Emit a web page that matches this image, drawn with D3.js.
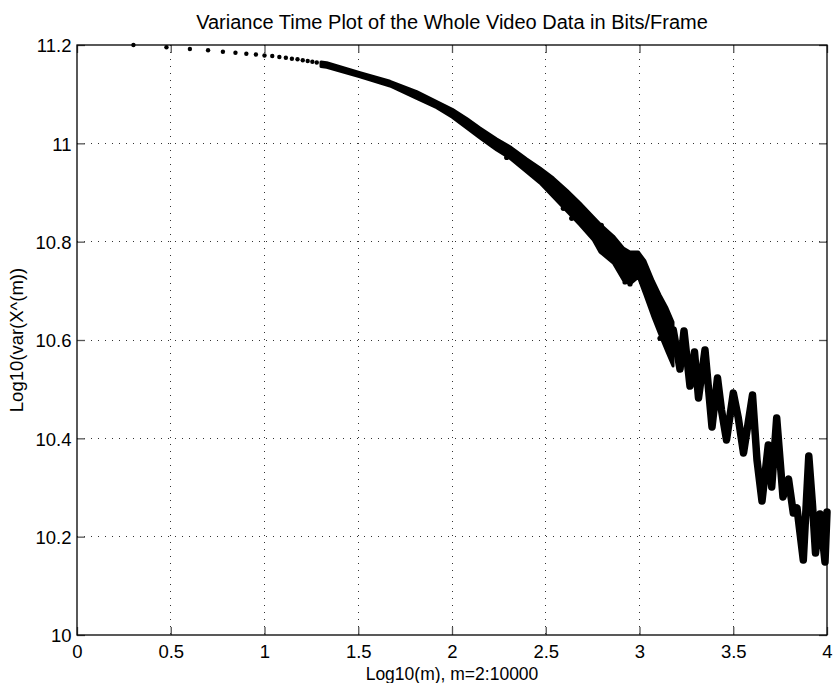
<!DOCTYPE html>
<html><head><meta charset="utf-8">
<script src="https://cdn.jsdelivr.net/npm/d3@7"></script>
<style>
body{margin:0;background:#fff}
svg{display:block}
text{font-family:"Liberation Sans",Arial,Helvetica,sans-serif;fill:#000}
</style>
</head><body>
<svg id="c" width="835" height="683"></svg>
<script>
// ---- data ----
const xTicks = [0, 0.5, 1, 1.5, 2, 2.5, 3, 3.5, 4];
const yTicks = [10, 10.2, 10.4, 10.6, 10.8, 11, 11.2];

// isolated points, m = 2..19 (x = log10(m))
const dotM = [2,3,4,5,6,7,8,9,10,11,12,13,14,15,16,17,18,19];
const dotY = [11.200,11.1953,11.1919,11.1892,11.1864,11.1843,11.1823,11.1807,11.1786,
              11.1776,11.1756,11.1742,11.1721,11.1709,11.1689,11.1675,11.1660,11.1644];

// dense band (upper / lower edge of the point cloud) for log10(m) 1.3 .. 3.18
const bandX  = [1.3013,1.3317,1.5093,1.6693,1.8117,1.9184,2.0016,2.0784,2.1493,2.2384,2.3093,2.3984,2.4693,
                2.5403,2.6117,2.6827,2.7536,2.7893,2.8603,2.9136,2.9493,2.9936,3.0293,3.0736,3.1093,3.1467,3.1787];
const bandHi = [11.1654,11.1640,11.1437,11.1262,11.1050,11.0847,11.0692,11.0505,11.0312,11.0088,10.9932,10.9681,10.9498,
                10.9295,10.9051,10.8786,10.8502,10.8359,10.8115,10.7871,10.7790,10.7790,10.7607,10.7200,10.6915,10.6651,10.6366];
const bandLo = [11.1563,11.1546,11.1355,11.1166,11.0916,11.0725,11.0529,11.0312,11.0109,10.9864,10.9696,10.9417,10.9193,
                10.8908,10.8624,10.8339,10.8034,10.7790,10.7566,10.7220,10.7139,10.7281,10.6915,10.6448,10.6102,10.5756,10.5471];

// oscillating tail (peaks and troughs) for log10(m) 3.18 .. 4
const zigX = [3.1803,3.2160,3.2373,3.2693,3.2933,3.3147,3.3493,3.3867,3.4160,3.4373,3.4640,3.5003,3.5269,3.5547,
              3.6027,3.6267,3.6533,3.6869,3.7051,3.7317,3.7653,3.7947,3.8203,3.8400,3.8736,3.9029,3.9227,3.9387,
              3.9627,3.9893,4.0000];
const zigY = [10.6203,10.5410,10.6183,10.5064,10.5756,10.4820,10.5797,10.4231,10.5227,10.4576,10.3966,10.4922,10.4414,10.3702,
              10.4881,10.3559,10.2725,10.3864,10.3010,10.4414,10.2807,10.3173,10.2481,10.2583,10.1525,10.3641,10.2644,10.1668,
              10.2461,10.1485,10.2502];

// scattered outliers
const outX = [2.2917,2.4603,2.5936,2.6384,2.7963,2.9317,2.9227,2.9493,3.1093];
const outY = [10.9712,10.9423,10.8679,10.8475,10.8333,10.7763,10.7180,10.7139,10.6035];

// ---- drawing ----
const svg = d3.select("#c");
const L = 77, R = 827, T = 45, B = 635;
const x = d3.scaleLinear().domain([0, 4]).range([L, R]);
const y = d3.scaleLinear().domain([10, 11.2]).range([B, T]);
const FS = 18.5;

// grid
const grid = svg.append("g");
grid.selectAll("line.gx").data(xTicks.slice(1, -1)).join("line")
  .attr("x1", d => x(d)).attr("x2", d => x(d)).attr("y1", T).attr("y2", B)
  .attr("stroke", "#333").attr("stroke-width", 1).attr("stroke-dasharray", "1,6")
  .attr("shape-rendering", "crispEdges");
grid.selectAll("line.gy").data(yTicks.slice(1, -1)).join("line")
  .attr("x1", L).attr("x2", R).attr("y1", d => y(d)).attr("y2", d => y(d))
  .attr("stroke", "#333").attr("stroke-width", 1).attr("stroke-dasharray", "1,6")
  .attr("shape-rendering", "crispEdges");

// axes with inward ticks
function styleAxis(g) {
  g.select(".domain").remove();
  g.selectAll(".tick line").attr("stroke", "#555").attr("stroke-width", 1.3);
  g.selectAll(".tick text").attr("font-size", FS).attr("font-family", '"Liberation Sans",Arial,sans-serif').attr("fill", "#000");
}
svg.append("g").attr("transform", `translate(0,${B})`)
  .call(d3.axisBottom(x).tickValues(xTicks).tickSize(-8).tickPadding(10).tickFormat(d => String(d)))
  .call(styleAxis);
svg.append("g").attr("transform", `translate(0,${T})`)
  .call(d3.axisTop(x).tickValues(xTicks).tickSize(-8).tickFormat(""))
  .call(styleAxis);
const yAx = svg.append("g").attr("transform", `translate(${L},0)`)
  .call(d3.axisLeft(y).tickValues(yTicks).tickSize(-8).tickPadding(5.5).tickFormat(d => String(d)))
  .call(styleAxis);
yAx.selectAll(".tick text").attr("dy", "0.37em");
svg.append("g").attr("transform", `translate(${R},0)`)
  .call(d3.axisRight(y).tickValues(yTicks).tickSize(-8).tickFormat(""))
  .call(styleAxis);

// box
svg.append("rect").attr("x", L).attr("y", T).attr("width", R - L).attr("height", B - T)
  .attr("fill", "none").attr("stroke", "#000").attr("stroke-width", 1.3);

// data
const band = bandX.map((v, i) => ({x: v, hi: bandHi[i], lo: bandLo[i]}));
svg.append("path").datum(band)
  .attr("d", d3.area().x(d => x(d.x)).y0(d => y(d.lo)).y1(d => y(d.hi)))
  .attr("fill", "#000").attr("stroke", "#000").attr("stroke-width", 3).attr("stroke-linejoin", "round");

const last = band[band.length - 1];
const zig = [{x: last.x, y: (last.hi + last.lo) / 2}].concat(zigX.map((v, i) => ({x: v, y: zigY[i]})));
svg.append("path").datum(zig)
  .attr("d", d3.line().x(d => x(d.x)).y(d => y(d.y)))
  .attr("fill", "none").attr("stroke", "#000").attr("stroke-width", 7.5)
  .attr("stroke-linejoin", "round").attr("stroke-linecap", "round");

svg.append("g").selectAll("circle").data(outX.map((v, i) => [v, outY[i]])).join("circle")
  .attr("cx", d => x(d[0])).attr("cy", d => y(d[1])).attr("r", 2.6).attr("fill", "#000");

svg.append("g").selectAll("circle").data(dotM.map((m, i) => [Math.log10(m), dotY[i]])).join("circle")
  .attr("cx", d => x(d[0])).attr("cy", d => y(d[1])).attr("r", 2.2).attr("fill", "#000");

// titles
svg.append("text").attr("x", (L + R) / 2).attr("y", 29).attr("text-anchor", "middle")
  .attr("font-size", 20).text("Variance Time Plot of the Whole Video Data in Bits/Frame");
svg.append("text").attr("x", (L + R) / 2).attr("y", 680).attr("text-anchor", "middle")
  .attr("font-size", 17.5).text("Log10(m), m=2:10000");
svg.append("text").attr("transform", `translate(23,${(T + B) / 2}) rotate(-90)`).attr("text-anchor", "middle")
  .attr("font-size", FS).text("Log10(var(X^(m))");
</script>
</body></html>
